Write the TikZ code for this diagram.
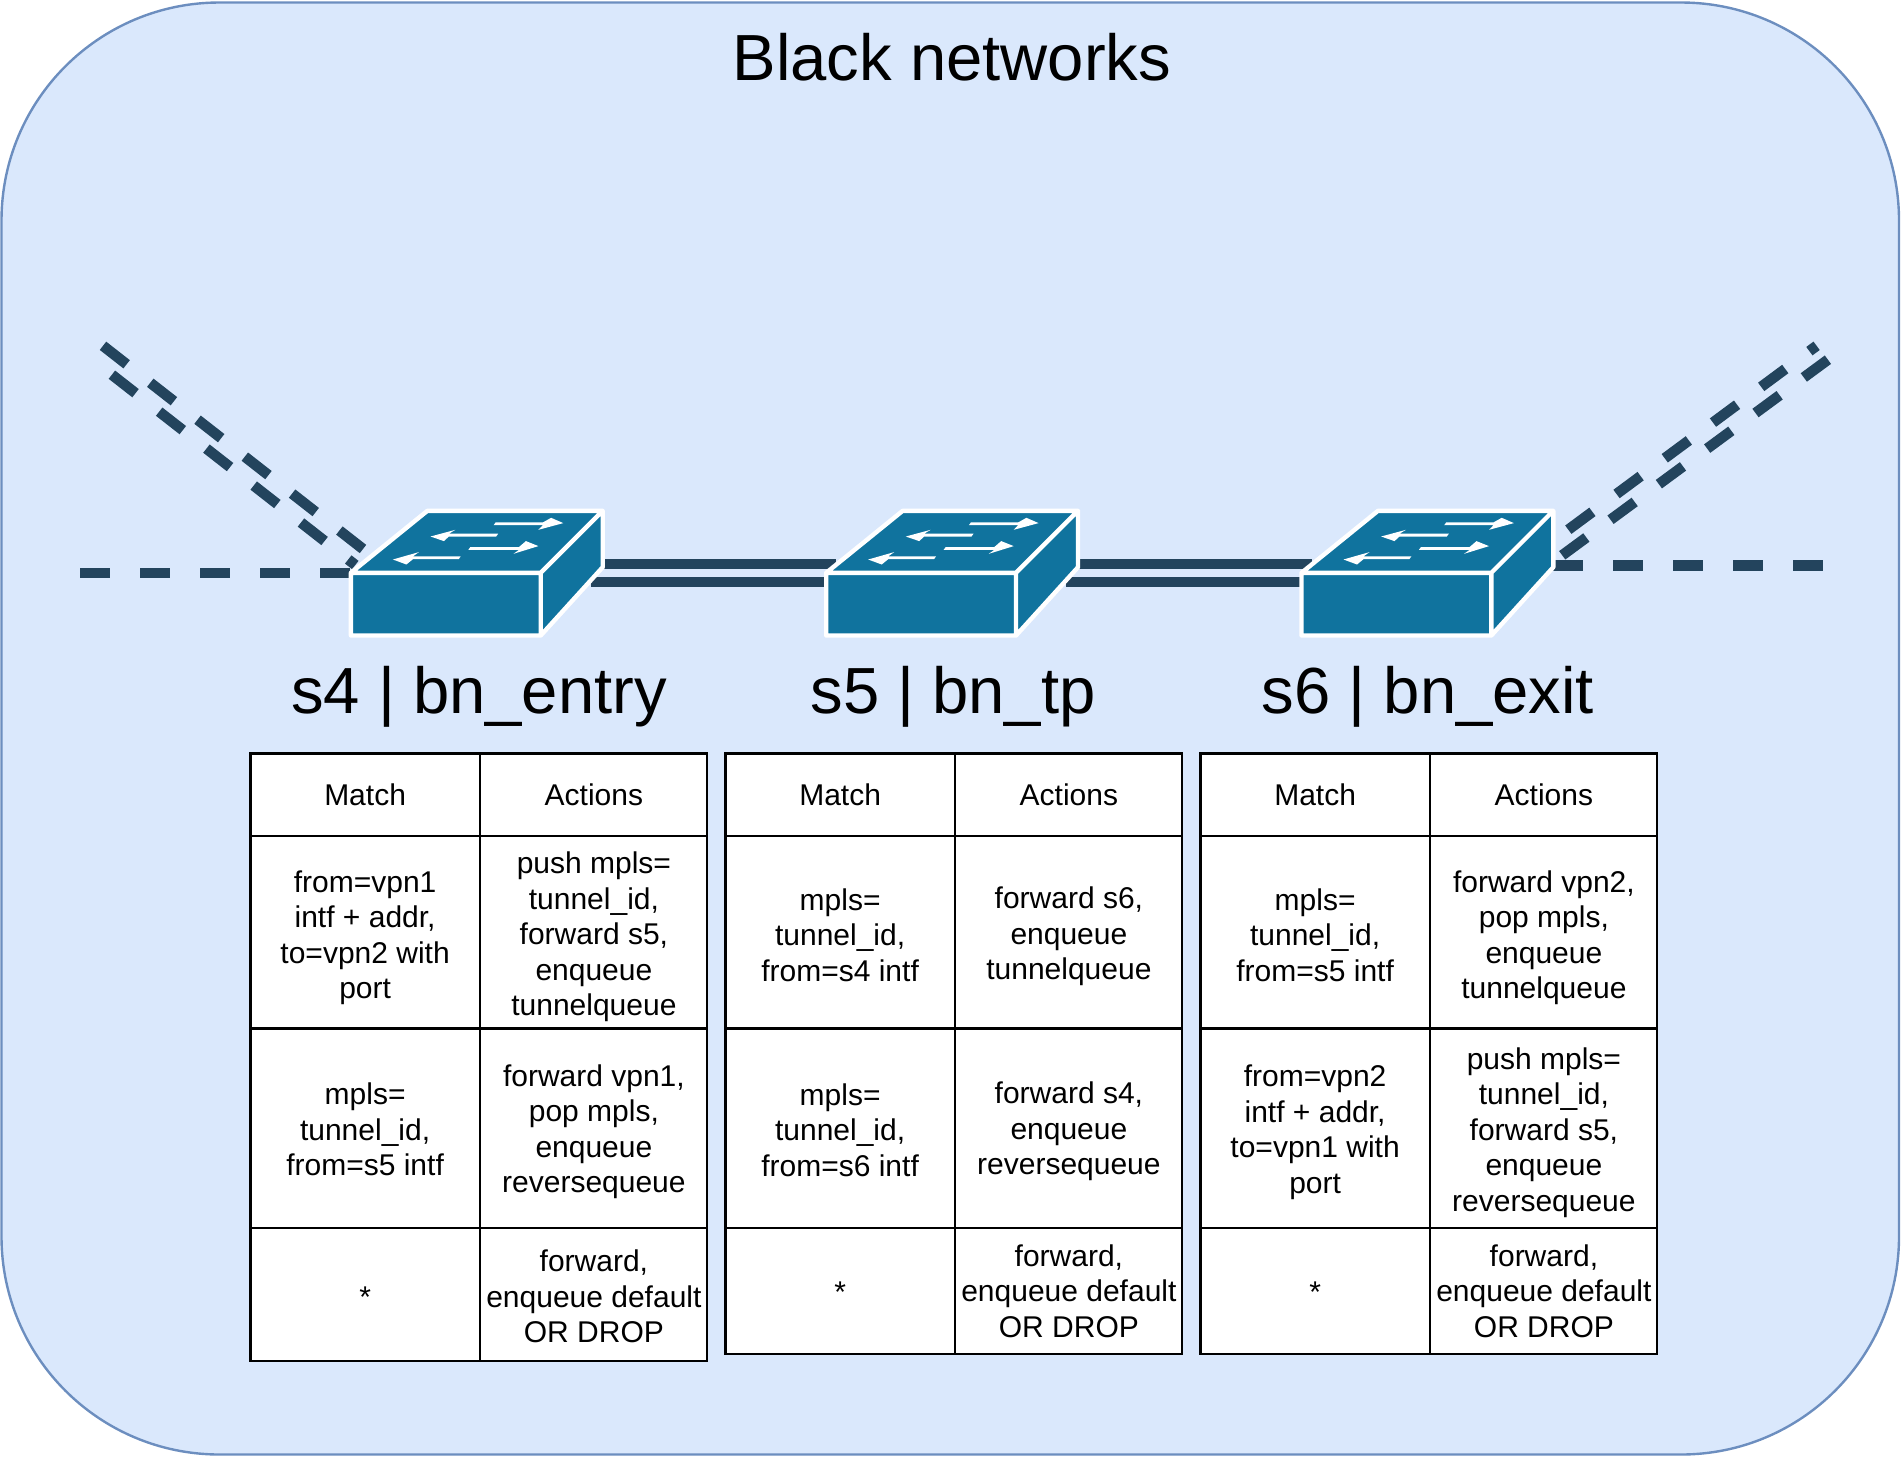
\documentclass[tikz,border=0pt]{standalone}
\usepackage{fontspec}
\setmainfont{Liberation Sans}
\usepackage{tikz}

\definecolor{netfill}{HTML}{DAE8FC}
\definecolor{netline}{HTML}{6C8EBF}
\definecolor{linkcol}{HTML}{23445D}
\definecolor{switchcol}{HTML}{10739E}

\tikzset{
  linkline/.style={draw=linkcol,line width=10.5pt},
  linkdash/.style={linkline,dash pattern=on 30pt off 30pt},
  biglabel/.style={inner sep=0pt,font=\fontsize{65.2}{70}\selectfont},
  celltext/.style={inner sep=0pt,align=center,font=\fontsize{30}{35.5}\selectfont},
  switchbox/.pic={
    \filldraw[fill=switchcol,draw=white,line width=4.4pt,line join=round]
      (0,62) -- (76.5,0) -- (251.8,0) -- (189.8,62) -- cycle
      (189.8,62) -- (251.8,0) -- (251.8,56.4) -- (189.8,124.7) -- cycle
      (0,62) rectangle (189.8,124.7);
    % arrows on the lid
    \foreach \ta/\tb/\na/\pa/\pb/\qa/\qb/\ha/\hb in {
      144.7/13/192/200.2/7/187.5/19/212.4/12.3,
      147.3/24.3/98/104.5/19/93/30.3/79.6/25.7,
      119.4/37.7/168/175/30.3/162.6/43/187.5/35.3,
      109.8/47/62/68/41.3/55.5/53.7/42/48.7}{
      \fill[white] (\ha,\hb) -- (\pa,\pb) -- (\na,\tb-1.4) -- (\ta,\tb-1.4) -- (\ta-2,\tb+1.4) -- (\na,\tb+1.4) -- (\qa,\qb) -- cycle;
    }
  }
}

\begin{document}
\begin{tikzpicture}[x=1pt,y=-1pt]
\useasboundingbox (0,0) rectangle (1901,1457);

% Background
\draw[fill=netfill,draw=netline,line width=2.4pt,rounded corners=218pt] (1.5,2.5) rectangle (1899,1454.5);
\node[biglabel] (title) at (952,57) {Black networks};

% switch corners
\coordinate (s4) at (350.9,510.8);
\coordinate (s5) at (826.2,510.8);
\coordinate (s6) at (1301.5,510.8);

% free ends of the links
\coordinate (inaa) at (103,345.8);   \coordinate (inab) at (363,549);
\coordinate (inba) at (111.9,374.7); \coordinate (inbb) at (355.3,565);
\coordinate (inca) at (80,573);      \coordinate (incb) at (352,573);
\coordinate (outaa) at (1568.3,529.7); \coordinate (outab) at (1816.6,345.8);
\coordinate (outba) at (1562.2,555.3); \coordinate (outbb) at (1827.9,359.7);
\coordinate (outca) at (1553,565.6);   \coordinate (outcb) at (1823,565.6);

% dashed links
\draw[linkdash] (inaa) -- (inab);
\draw[linkdash] (inba) -- (inbb);
\draw[linkdash] (inca) -- (incb);
\draw[linkdash] (outaa) -- (outab);
\draw[linkdash] (outba) -- (outbb);
\draw[linkdash] (outca) -- (outcb);

% solid links
\draw[linkline] ([shift={(240,53.3)}]s4) -- ([shift={(10,53.3)}]s5);
\draw[linkline] ([shift={(240,71.3)}]s4) -- ([shift={(10,71.3)}]s5);
\draw[linkline] ([shift={(240,53.3)}]s5) -- ([shift={(10,53.3)}]s6);
\draw[linkline] ([shift={(240,71.3)}]s5) -- ([shift={(10,71.3)}]s6);

% switches
\pic at (s4) {switchbox};
\pic at (s5) {switchbox};
\pic at (s6) {switchbox};
\node[biglabel] (s4name) at (479,697) {s4 | bn\_entry};
\node[biglabel] (s5name) at (953,697) {s5 | bn\_tp};
\node[biglabel] (s6name) at (1428,697) {s6 | bn\_exit};

% table grids
\foreach \tx/\tb in {250.3/1361, 725.3/1353.8, 1200.3/1353.8}{
  \draw[fill=white,line width=2.4pt] (\tx,753.4) rectangle (\tx+456.4,\tb);
  \draw[line width=2.4pt] (\tx+229.7,753.4) -- (\tx+229.7,\tb);
  \foreach \ry in {835.8,1028.6,1227.8}
    \draw[line width=2.4pt] (\tx,\ry) -- (\tx+456.4,\ry);
}

% table s4
\node[celltext] (s4m1) at (365.1,795) {Match};
\node[celltext] (s4a1) at (593.9,795) {Actions};
\node[celltext] (s4m2) at (365.1,937.5) {from=vpn1\\intf + addr,\\to=vpn2 with\\port};
\node[celltext] (s4a2) at (593.9,937) {push mpls=\\tunnel\_id,\\forward s5,\\enqueue\\tunnelqueue};
\node[celltext] (s4m3) at (365.1,1129.7) {mpls=\\tunnel\_id,\\from=s5 intf};
\node[celltext] (s4a3) at (593.9,1131.5) {forward vpn1,\\pop mpls,\\enqueue\\reversequeue};
\node[celltext] (s4m4) at (365.1,1297) {*};
\node[celltext] (s4a4) at (593.9,1296.7) {forward,\\enqueue default\\OR DROP};

% table s5
\node[celltext] (s5m1) at (840.1,795) {Match};
\node[celltext] (s5a1) at (1068.9,795) {Actions};
\node[celltext] (s5m2) at (840.1,935) {mpls=\\tunnel\_id,\\from=s4 intf};
\node[celltext] (s5a2) at (1068.9,936.4) {forward s6,\\enqueue\\tunnelqueue};
\node[celltext] (s5m3) at (840.1,1130) {mpls=\\tunnel\_id,\\from=s6 intf};
\node[celltext] (s5a3) at (1068.9,1131.5) {forward s4,\\enqueue\\reversequeue};
\node[celltext] (s5m4) at (840.1,1292.5) {*};
\node[celltext] (s5a4) at (1068.9,1291) {forward,\\enqueue default\\OR DROP};

% table s6
\node[celltext] (s6m1) at (1315.1,795) {Match};
\node[celltext] (s6a1) at (1543.9,795) {Actions};
\node[celltext] (s6m2) at (1315.1,935) {mpls=\\tunnel\_id,\\from=s5 intf};
\node[celltext] (s6a2) at (1543.9,937.5) {forward vpn2,\\pop mpls,\\enqueue\\tunnelqueue};
\node[celltext] (s6m3) at (1315.1,1132) {from=vpn2\\intf + addr,\\to=vpn1 with\\port};
\node[celltext] (s6a3) at (1543.9,1132.4) {push mpls=\\tunnel\_id,\\forward s5,\\enqueue\\reversequeue};
\node[celltext] (s6m4) at (1315.1,1292.5) {*};
\node[celltext] (s6a4) at (1543.9,1291) {forward,\\enqueue default\\OR DROP};
\end{tikzpicture}
\end{document}
